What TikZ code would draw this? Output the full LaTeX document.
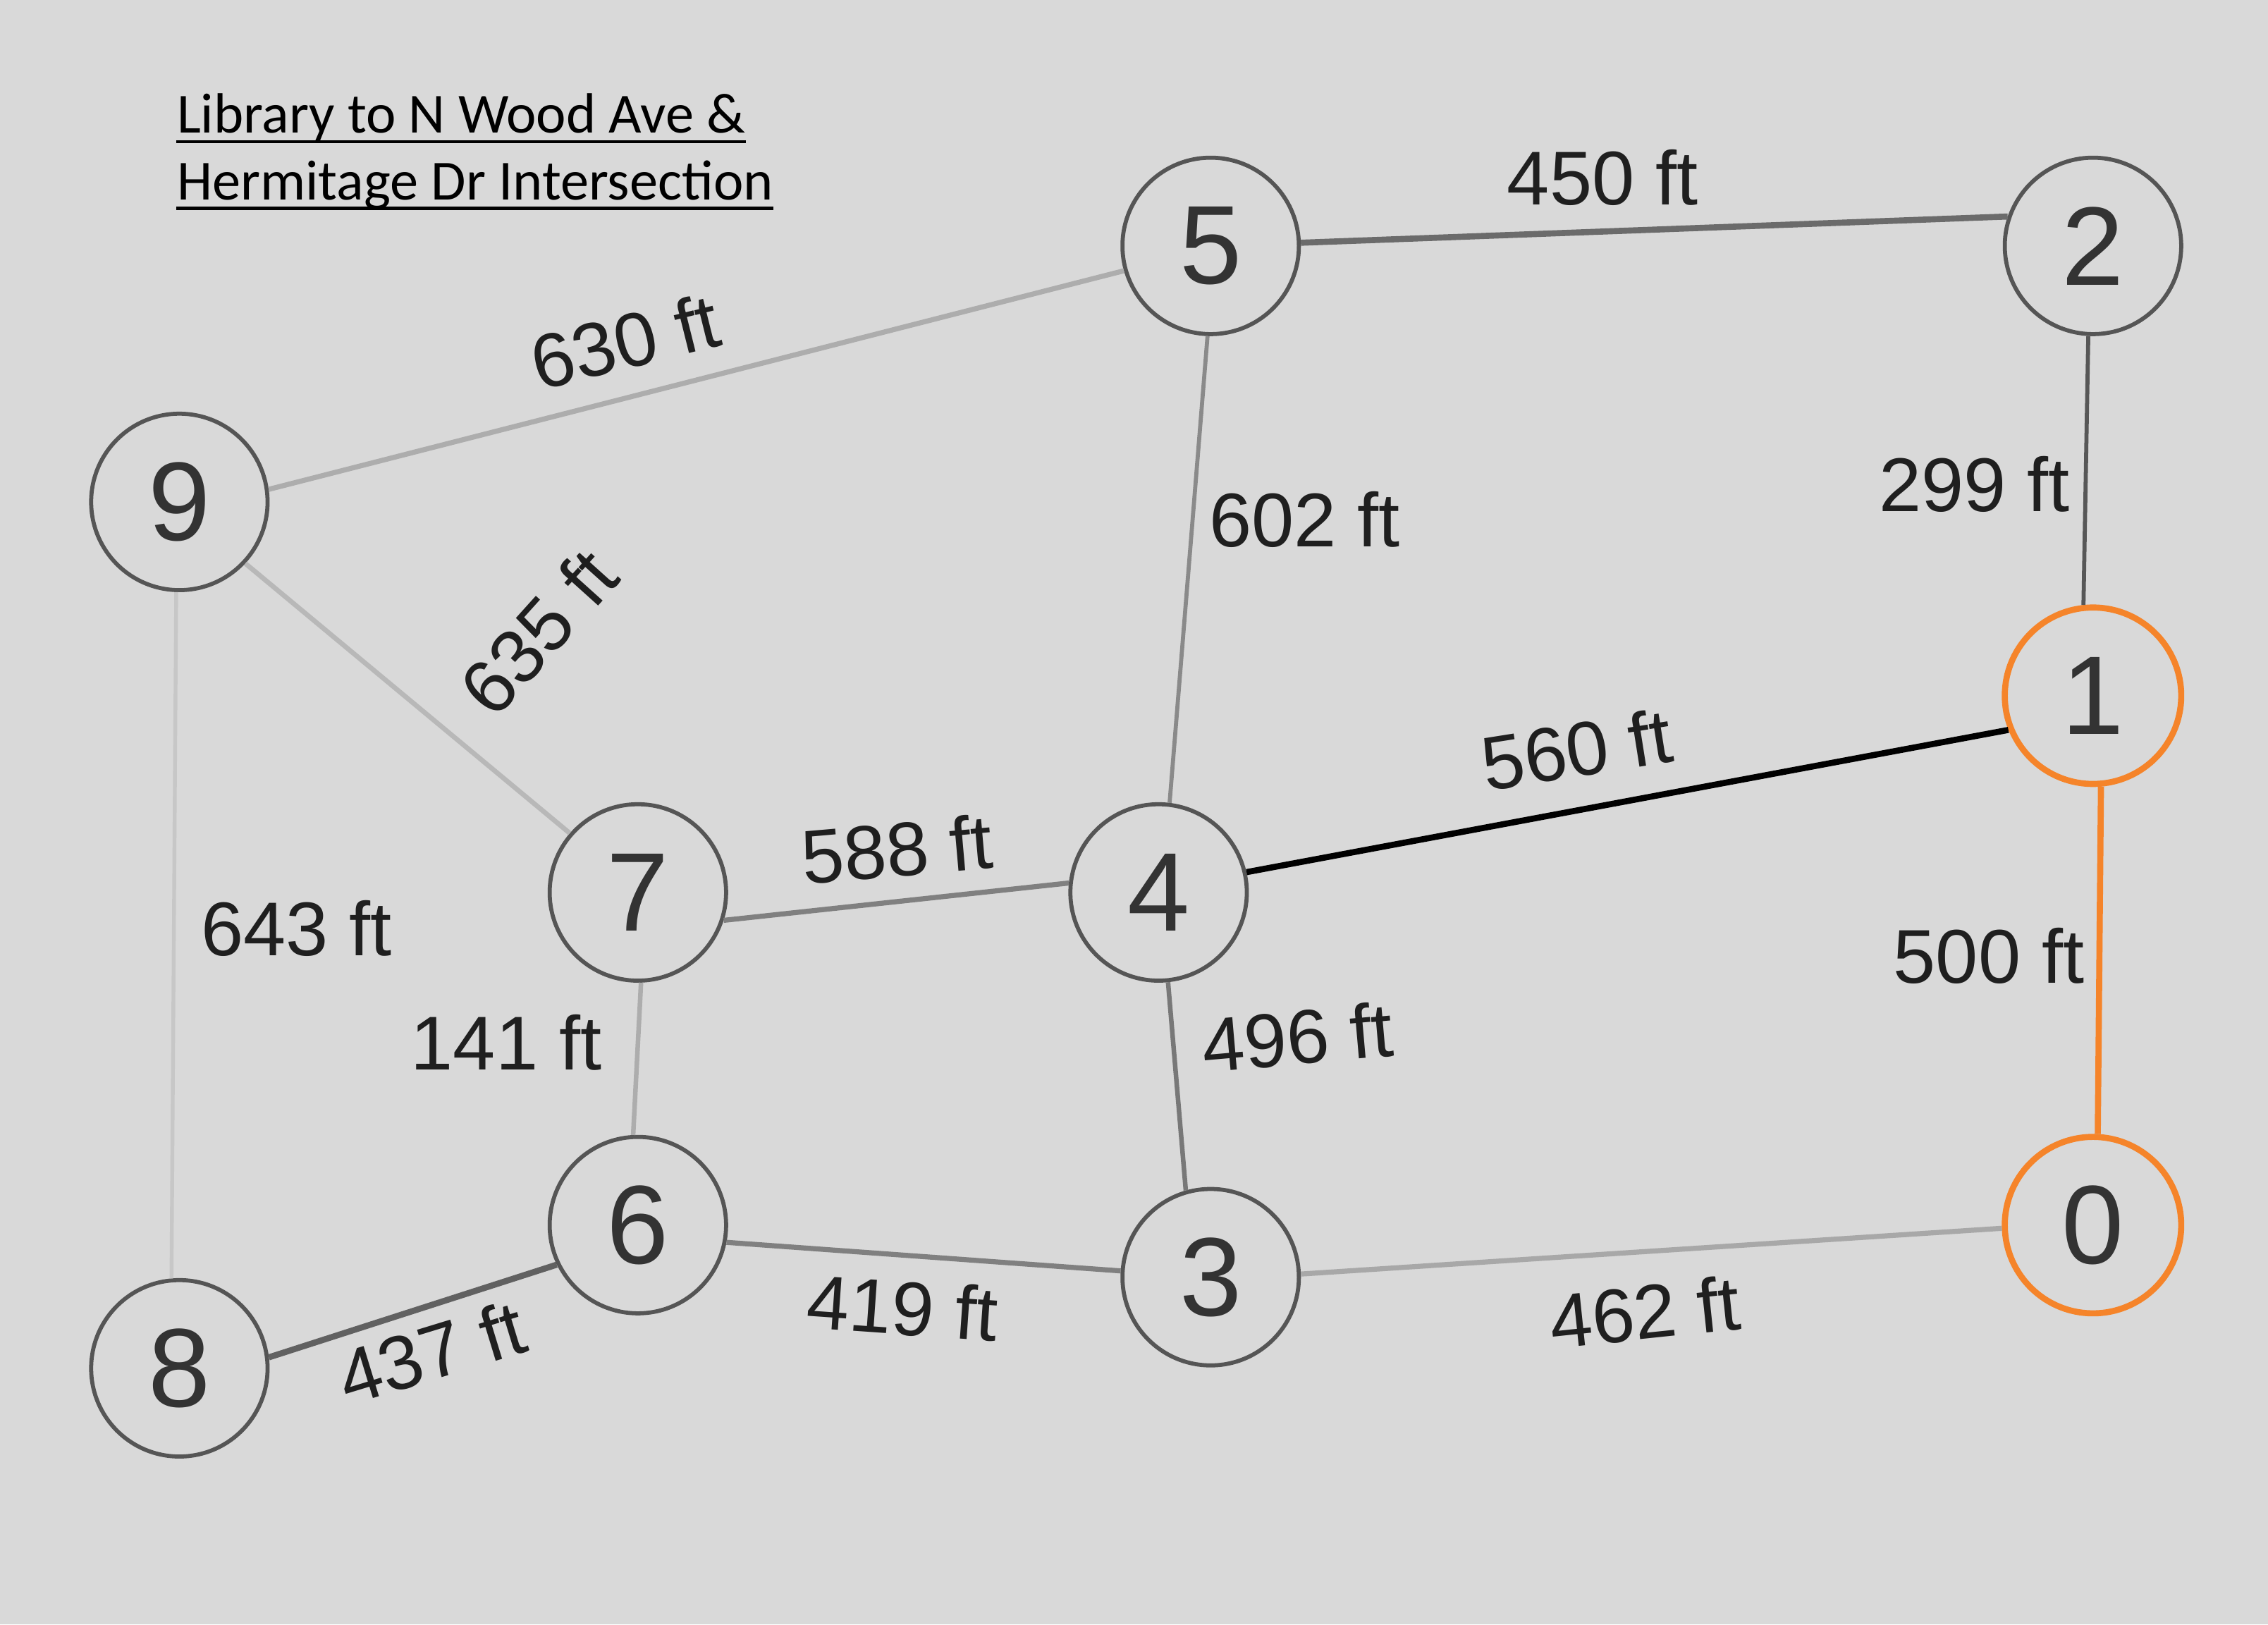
\documentclass[tikz,border=0pt]{standalone}
\usepackage{fontspec}
\setmainfont{Liberation Sans}
\newfontfamily\titlefont{Carlito}
\usetikzlibrary{positioning}
\definecolor{paper}{HTML}{D9D9D9}
\definecolor{ring}{HTML}{555555}
\definecolor{route}{HTML}{F5842A}

\begin{document}
\begin{tikzpicture}[x=0.02cm, y=-0.02cm,
  vtx/.style={circle, draw=ring, line width=1.6pt, fill=paper,
    minimum size=2.44cm, inner sep=0pt, text=black!80,
    font=\fontsize{44}{44}\selectfont},
  onroute/.style={vtx, draw=route, line width=2.4pt},
  road/.style={line width=#1},
  lbl/.style={inner sep=0pt, text=black!88, font=\fontsize{30}{30}\selectfont},
  ttl/.style={inner sep=0pt, anchor=base west, font=\titlefont\fontsize{22.3}{22.3}\selectfont},
  uln/.style={line width=1.2pt}]
\fill[paper] (0,0) rectangle (1568,1123);
% title
\node[ttl] (t1) at (122,92) {Library to N Wood Ave \&};
\node[ttl] (t2) at (122,138) {Hermitage Dr Intersection};
\draw[uln] ([yshift=-3.4pt]t1.base west) -- ([yshift=-3.4pt]t1.base east);
\draw[uln] ([yshift=-3.4pt]t2.base west) -- ([yshift=-3.4pt]t2.base east);
% intersections
\node[vtx] (n5) at (837,170) {5};
\node[vtx] (n2) at (1447,170) {2};
\node[vtx] (n9) at (124,347) {9};
\node[onroute] (n1) at (1447,481) {1};
\node[vtx] (n7) at (441,617) {7};
\node[vtx] (n4) at (801,617) {4};
\node[vtx] (n6) at (441,847) {6};
\node[vtx] (n3) at (837,883) {3};
\node[onroute] (n0) at (1447,847) {0};
\node[vtx] (n8) at (124,946) {8};
% streets
\draw[road=2.4pt, black!58] (n5.2) -- (n2.161);
\draw[road=2pt, black!32] (n9.8) -- (n5.196);
\draw[road=1.6pt, black!46] (n5.268) -- (n4.83);
\draw[road=1.6pt, black!66] (n2.267) -- (n1.96);
\draw[road=1.9pt, black!28] (n9.317) -- (n7.139);
\draw[road=1.5pt, black!22] (n9.268) -- (n8.95);
\draw[road=2pt, black!50] (n7.342) -- (n4.174);
\draw[road=2.4pt, black] (n4.13) -- (n1.202);
\draw[road=2.4pt, route] (n1.275) -- (n0.87);
\draw[road=1.8pt, black!32] (n7.272) -- (n6.93);
\draw[road=1.8pt, black!53] (n4.276) -- (n3.106);
\draw[road=2.4pt, black!62] (n8.7) -- (n6.206);
\draw[road=2pt, black!50] (n6.349) -- (n3.176);
\draw[road=2pt, black!34] (n3.2) -- (n0.182);
% distances
\node[lbl, rotate=14] (l95) at (432,236) {630 ft};
\node[lbl] (l52) at (1108,123) {450 ft};
\node[lbl] (l21) at (1365,335) {299 ft};
\node[lbl] (l54) at (902,359) {602 ft};
\node[lbl, rotate=48] (l97) at (372,437) {635 ft};
\node[lbl, rotate=9] (l41) at (1090,518) {560 ft};
\node[lbl, rotate=5] (l74) at (620,587) {588 ft};
\node[lbl] (l98) at (205,642) {643 ft};
\node[lbl] (l76) at (350,721) {141 ft};
\node[lbl, rotate=5] (l43) at (897,717) {496 ft};
\node[lbl] (l10) at (1375,661) {500 ft};
\node[lbl, rotate=17] (l86) at (298,935) {437 ft};
\node[lbl, rotate=-4] (l63) at (624,904) {419 ft};
\node[lbl, rotate=6] (l30) at (1137,907) {462 ft};
\end{tikzpicture}
\end{document}
